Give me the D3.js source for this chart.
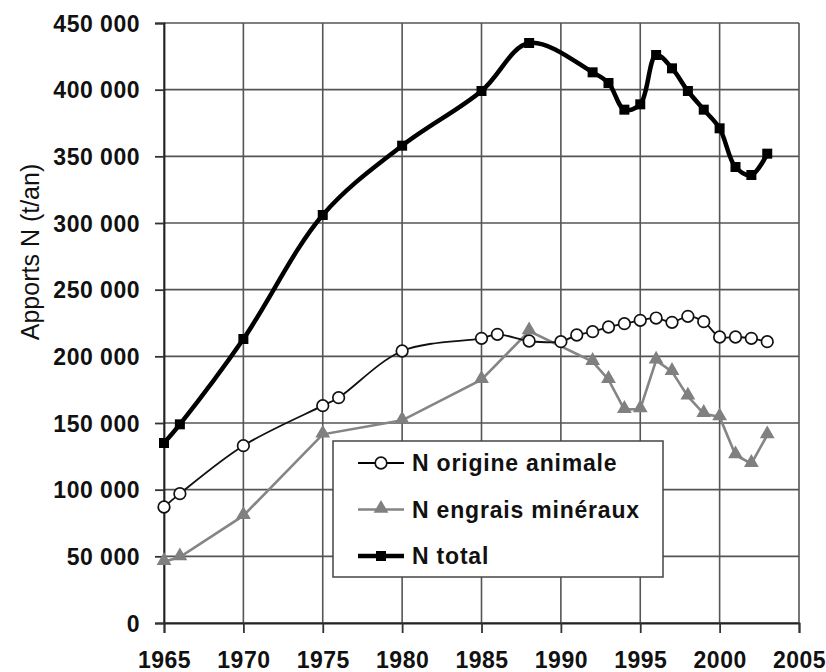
<!DOCTYPE html>
<html>
<head>
<meta charset="utf-8">
<script src="https://cdn.jsdelivr.net/npm/d3@7"></script>
<style>
  body { margin: 0; background: #fff; }
  svg { display: block; font-family: "Liberation Sans", Arial, sans-serif; }
</style>
</head>
<body>
<div id="chart"></div>
<script>
// series
const animalYears = [1965, 1966, 1970, 1975, 1976, 1980, 1985, 1986, 1988, 1990, 1991, 1992, 1993, 1994, 1995, 1996, 1997, 1998, 1999, 2000, 2001, 2002, 2003];
const animalValues = [87000, 97000, 133000, 163000, 169000, 204000, 213500, 216500, 211500, 211000, 216000, 218500, 222000, 224500, 227000, 228700, 225500, 230000, 226000, 214500, 214500, 213500, 211000];

const mineralYears = [1965, 1966, 1970, 1975, 1980, 1985, 1988, 1992, 1993, 1994, 1995, 1996, 1997, 1998, 1999, 2000, 2001, 2002, 2003];
const mineralValues = [46000, 49500, 80500, 141500, 152000, 182500, 219000, 196000, 182500, 160000, 160500, 197000, 188500, 170000, 157000, 154500, 126000, 119500, 141000];

const totalYears = [1965, 1966, 1970, 1975, 1980, 1985, 1988, 1992, 1993, 1994, 1995, 1996, 1997, 1998, 1999, 2000, 2001, 2002, 2003];
const totalValues = [135000, 149000, 213000, 306000, 358000, 399000, 435000, 413000, 405000, 385000, 389000, 426000, 416000, 399000, 385000, 371000, 342000, 336000, 352000];

const xTicks = [1965, 1970, 1975, 1980, 1985, 1990, 1995, 2000, 2005];
const yTicks = [0, 50000, 100000, 150000, 200000, 250000, 300000, 350000, 400000, 450000];
const legendLabels = ['N origine animale', 'N engrais minéraux', 'N total'];
const yTitle = 'Apports N (t/an)';

const W = 826, H = 672;
const margin = {top: 23, right: 27, bottom: 49, left: 164};
const width = W - margin.left - margin.right,
      height = H - margin.top - margin.bottom;

const x = d3.scaleLinear().domain([1965, 2005]).range([0, width]);
const y = d3.scaleLinear().domain([0, 450000]).range([height, 0]);

const fmt = d => d3.format(',')(d).replace(/,/g, ' ');

const svg = d3.select('#chart').append('svg')
    .attr('width', W).attr('height', H);
const g = svg.append('g').attr('transform', `translate(${margin.left},${margin.top})`);

// grid
g.append('g').selectAll('line').data(yTicks).join('line')
    .attr('x1', 0).attr('x2', width)
    .attr('y1', d => y(d)).attr('y2', d => y(d))
    .attr('stroke', '#555').attr('stroke-width', 1.6);
g.append('g').selectAll('line').data(xTicks).join('line')
    .attr('x1', d => x(d)).attr('x2', d => x(d))
    .attr('y1', 0).attr('y2', height)
    .attr('stroke', '#555').attr('stroke-width', 1.6);

// axes
const yAxis = d3.axisLeft(y).tickValues(yTicks).tickFormat(fmt).tickSize(9).tickPadding(15);
const xAxis = d3.axisBottom(x).tickValues(xTicks).tickFormat(d3.format('d')).tickSize(10).tickPadding(19);

const ya = g.append('g').call(yAxis);
const xa = g.append('g').attr('transform', `translate(0,${height})`).call(xAxis);
[ya, xa].forEach(a => {
  a.select('.domain').attr('stroke', '#222').attr('stroke-width', 1.8);
  a.selectAll('.tick line').attr('stroke', '#333').attr('stroke-width', 1.8);
  a.selectAll('.tick text')
      .attr('fill', '#111')
      .style('font-size', '23px')
      .style('font-weight', 'bold')
      .style('letter-spacing', '0.5px');
});
ya.selectAll('.tick text').attr('dy', '0.36em');
xa.selectAll('.tick text').attr('dy', '0.71em');

svg.append('text')
    .attr('transform', `translate(39,${252}) rotate(-90)`)
    .attr('text-anchor', 'middle')
    .attr('fill', '#111')
    .style('font-size', '25px')
    .text(yTitle);

const zip = (xs, vs) => xs.map((d, i) => ({year: d, value: vs[i]}));
const animal = zip(animalYears, animalValues);
const mineral = zip(mineralYears, mineralValues);
const total = zip(totalYears, totalValues);

const smooth = d3.line().x(d => x(d.year)).y(d => y(d.value)).curve(d3.curveCatmullRom.alpha(0.5));
const straight = d3.line().x(d => x(d.year)).y(d => y(d.value));

const tri = d3.symbol().type(d3.symbolTriangle).size(95);

// mineral (grey, straight)
g.append('path').datum(mineral).attr('d', straight)
    .attr('fill', 'none').attr('stroke', '#858585').attr('stroke-width', 2.6);
g.append('g').selectAll('path').data(mineral).join('path')
    .attr('d', tri)
    .attr('transform', d => `translate(${x(d.year)},${y(d.value) - 1})`)
    .attr('fill', '#808080');

// animal (thin black, smoothed)
g.append('path').datum(animal).attr('d', smooth)
    .attr('fill', 'none').attr('stroke', '#111').attr('stroke-width', 1.8);
g.append('g').selectAll('circle').data(animal).join('circle')
    .attr('cx', d => x(d.year)).attr('cy', d => y(d.value)).attr('r', 5.8)
    .attr('fill', '#fff').attr('stroke', '#111').attr('stroke-width', 1.7);

// total (thick black, smoothed)
g.append('path').datum(total).attr('d', smooth)
    .attr('fill', 'none').attr('stroke', '#000').attr('stroke-width', 4.5)
    .attr('stroke-linejoin', 'round');
g.append('g').selectAll('rect').data(total).join('rect')
    .attr('x', d => x(d.year) - 5).attr('y', d => y(d.value) - 5)
    .attr('width', 10).attr('height', 10)
    .attr('fill', '#000');

// legend
const leg = svg.append('g').attr('transform', 'translate(333,441)');
leg.append('rect').attr('width', 330).attr('height', 136)
    .attr('fill', '#fff').attr('stroke', '#444').attr('stroke-width', 1.5);

const rows = leg.selectAll('g.row').data(legendLabels).join('g')
    .attr('class', 'row')
    .attr('transform', (d, i) => `translate(0,${22 + i * 46.5})`);
rows.append('line').attr('x1', 25).attr('x2', 71)
    .attr('stroke', (d, i) => i === 1 ? '#858585' : '#000')
    .attr('stroke-width', (d, i) => i === 2 ? 4.5 : i === 1 ? 2.6 : 1.8);
rows.each(function(d, i) {
  const r = d3.select(this);
  if (i === 0) r.append('circle').attr('cx', 48).attr('r', 5.8)
      .attr('fill', '#fff').attr('stroke', '#111').attr('stroke-width', 1.7);
  if (i === 1) r.append('path').attr('d', tri).attr('transform', 'translate(48,-1)').attr('fill', '#808080');
  if (i === 2) r.append('rect').attr('x', 43).attr('y', -5).attr('width', 10).attr('height', 10).attr('fill', '#000');
});
rows.append('text').attr('x', 79).attr('y', 8)
    .attr('fill', '#111')
    .style('font-size', '23px').style('font-weight', 'bold').style('letter-spacing', '0.8px')
    .text(d => d);
</script>
</body>
</html>
